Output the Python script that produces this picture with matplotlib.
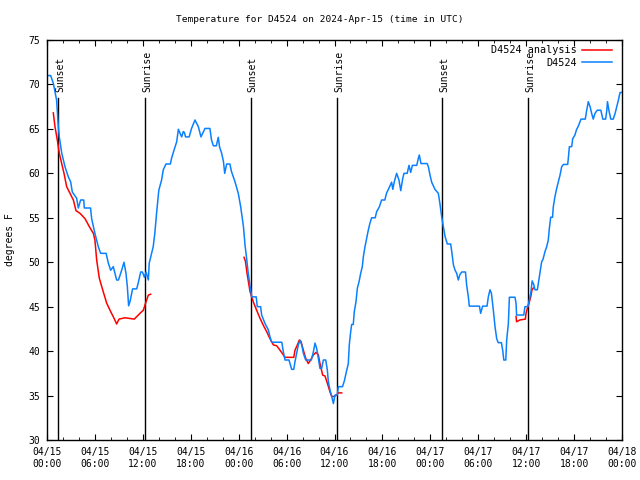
import matplotlib

matplotlib.use("Agg")
import matplotlib.pyplot as plt
import numpy as np

# hours since 04/15 00:00 UTC
obs_hours = [0.1, 0.46, 0.8, 1.2, 1.42, 1.54, 1.84, 2.25, 2.67, 2.96, 3.17, 3.71, 3.92, 4.21, 4.6,
             4.67, 5.45, 5.59, 6.0, 6.42, 6.72, 7.4, 7.68, 7.97, 8.3, 8.72, 8.95, 9.35, 9.64, 9.89,
             10.06, 10.22, 10.4, 10.72, 11.23, 11.43, 11.73, 11.95, 12.2, 12.4, 12.69, 12.8, 13.1,
             13.3, 13.5, 13.72, 14.0, 14.35, 14.56, 14.9, 15.45, 15.6, 15.9, 16.24, 16.45, 16.86,
             17.07, 17.2, 17.35, 17.8, 18.1, 18.53, 18.95, 19.28, 19.78, 20.4, 20.6, 20.83, 21.2,
             21.45, 21.6, 21.87, 22.1, 22.25, 22.5, 22.9, 23.1, 23.54, 23.95, 24.25, 24.6, 24.8,
             25.0, 25.2, 25.42, 25.63, 26.2, 26.33, 26.75, 26.88, 27.3, 27.71, 27.92, 28.13, 29.4,
             29.6, 29.8, 30.3, 30.43, 30.64, 30.9, 31.05, 31.26, 31.47, 31.68, 31.9, 32.1, 32.39,
             33.1, 33.35, 33.56, 33.77, 33.97, 34.18, 34.4, 34.6, 34.9, 35.1, 35.23, 35.44, 35.65,
             35.86, 36.06, 36.35, 36.48, 37.0, 37.25, 37.44, 37.73, 37.85, 38.03, 38.15, 38.35,
             38.48, 38.69, 38.86, 39.07, 39.28, 39.48, 39.61, 39.82, 40.03, 40.23, 40.44, 40.65,
             41.1, 41.28, 41.6, 41.9, 42.3, 42.53, 42.85, 43.15, 43.3, 43.5, 43.78, 44.07, 44.3,
             44.54, 44.7, 45.1, 45.33, 45.54, 45.75, 46.3, 46.5, 46.62, 46.83, 47.6, 47.75, 47.96,
             48.17, 48.58, 49.0, 49.2, 49.42, 49.63, 49.84, 50.13, 50.55, 50.68, 50.89, 51.1, 51.3,
             51.5, 51.7, 51.93, 52.4, 52.55, 52.76, 52.88, 54.15, 54.3, 54.55, 55.1, 55.26, 55.47,
             55.65, 55.89, 56.1, 56.31, 56.5, 56.9, 57.06, 57.2, 57.45, 57.56, 57.77, 57.9, 58.6,
             58.73, 58.8, 59.7, 59.85, 60.2, 60.4, 60.6, 60.75, 60.95, 61.1, 61.4, 61.52, 61.73,
             61.94, 62.1, 62.36, 62.57, 62.77, 62.9, 63.07, 63.3, 63.4, 63.61, 63.82, 64.03, 64.24,
             64.45, 64.66, 65.2, 65.28, 65.41, 65.7, 65.83, 66.1, 66.3, 66.5, 66.74, 66.87, 67.4,
             67.58, 67.78, 68.0, 68.2, 68.4, 68.62, 68.9, 69.35, 69.6, 69.95, 70.1, 70.18, 70.4,
             70.6, 70.9, 71.14, 71.35, 71.55, 71.76, 71.97]
obs_temp = [71.0, 71.0, 70.1, 68.25, 65.25, 64.1, 62.3, 60.75, 59.6, 59.05, 57.9, 57.2, 56.1, 57.0, 57.0,
            56.1, 56.1, 54.9, 53.25, 51.75, 51.0, 51.0, 49.9, 49.1, 49.5, 48.0, 48.0, 49.1, 50.0, 48.75,
            47.25, 45.1, 45.6, 47.0, 47.0, 47.7, 48.9, 48.9, 48.3, 48.9, 48.0, 49.9, 51.0,
            51.75, 53.25, 55.5, 58.1, 59.25, 60.4, 61.05, 61.05, 61.7, 62.6, 63.55, 64.95, 64.1,
            64.7, 64.6, 64.1, 64.1, 65.05, 66.0, 65.25, 64.1, 65.05, 65.05, 63.75, 63.1, 63.1,
            64.05, 63.0, 62.25, 61.3, 60.0, 61.05, 61.05, 60.2, 59.05, 57.75, 56.25, 54.0, 51.9,
            50.4, 48.75, 47.4, 46.1, 46.1, 45.0, 45.0, 44.06, 43.1, 42.4, 41.6, 41.0, 41.0,
            39.9, 39.0, 39.0, 38.6, 37.95, 37.95, 38.8, 39.75, 40.7, 41.2, 40.7, 39.75, 39.0,
            39.0, 39.9, 40.9, 40.3, 39.2, 38.06, 38.06, 39.0, 39.0, 37.9, 36.56, 35.6, 34.9,
            34.1, 35.06, 35.06, 36.0, 36.0, 36.7, 37.5, 38.6, 40.7, 42.2, 43.0, 43.0,
            44.45, 45.55, 47.06, 47.8, 48.75, 49.5, 50.6, 51.75, 52.7, 53.6, 54.4, 55.0,
            55.0, 55.7, 56.2, 57.0, 57.0, 57.8, 58.4, 59.0, 58.2, 59.1, 60.0, 59.25, 58.05,
            59.4, 60.0, 60.0, 60.9, 60.1, 60.9, 60.9, 61.7, 62.06, 61.1, 61.1, 60.75, 59.8,
            59.0, 58.2, 57.75, 56.6, 55.1, 54.0, 52.9, 52.05, 52.05, 51.2, 49.7, 49.1, 48.75,
            48.0, 48.6, 48.9, 48.9, 47.4, 46.1, 45.06, 45.06, 44.25, 45.06, 45.06, 46.1, 46.9,
            46.5, 44.6, 42.75, 41.4, 40.95, 40.95, 40.1, 39.0, 39.0, 41.25, 43.1, 46.06, 46.06,
            45.4, 44.06, 44.06, 45.0, 45.0, 45.75, 46.7, 47.9, 47.5, 46.9, 46.9, 47.6, 48.75,
            50.06, 50.3, 51.2, 51.75, 52.5, 53.8, 55.06, 55.06, 56.25, 57.4, 58.3, 59.06, 59.8,
            60.75, 61.0, 61.0, 61.7, 63.0, 63.0, 63.9, 64.3, 64.9, 65.25, 65.8, 66.1, 66.1,
            67.1, 68.06, 67.5, 66.75, 66.1, 66.75, 67.1, 67.1, 66.1, 66.1, 67.1, 68.06, 66.9,
            66.1, 66.1, 66.75, 67.5, 68.25, 69.1, 69.1]

# analysis series, NaN marks the gaps between the three pieces
ana_hours = [0.79, 1.0, 1.29, 1.54, 1.84, 2.13, 2.46, 2.88, 3.3, 3.63, 4.13, 4.76, 5.3, 5.8, 6.0, 6.22,
             6.55, 6.97, 7.47, 7.97, 8.39, 8.72, 9.02, 9.77, 10.93, 11.64, 12.06, 12.4, 12.69, 12.98,
             np.nan,
             24.67, 24.85, 25.05, 25.42, 25.83, 26.25, 26.67, 27.09, 27.5, 27.92, 28.34, 28.76, 29.18,
             29.6, 29.8, 30.9, 31.05, 31.35, 31.6, 31.8, 32.1, 32.39, 32.72, 33.01, 33.35, 33.68,
             33.97, 34.18, 34.52, 34.81, 35.1, 35.44, 35.65, 35.94, 36.27, 36.48, 36.9,
             np.nan,
             58.73, 58.8, 59.2, 59.9, 59.98, 60.15, 60.36, 60.57, 60.73, 60.9]
ana_temp = [66.8, 65.25, 63.75, 62.25, 61.1, 60.0, 58.5, 57.75, 57.0, 55.8, 55.5, 54.9, 54.0, 53.25, 52.5, 50.25,
            48.2, 46.9, 45.4, 44.45, 43.7, 43.05, 43.6, 43.75, 43.6, 44.25, 44.6, 45.55, 46.3, 46.4,
            np.nan,
            50.55, 50.1, 48.75, 46.7, 45.55, 44.6, 43.7, 42.9, 42.2, 41.4, 40.7, 40.6, 40.1,
            39.56, 39.3, 39.3, 40.1, 40.7, 41.25, 41.1, 40.1, 39.2, 38.6, 39.0, 39.56, 39.86,
            39.6, 38.6, 37.3, 37.2, 36.4, 35.4, 34.9, 34.9, 35.06, 35.3, 35.3,
            np.nan,
            43.9, 43.3, 43.5, 43.6, 44.25, 44.8, 45.4, 46.1, 46.9, 47.1]

sun_hours = [1.42, 12.31, 25.5, 36.35, 49.5, 60.27]
sun_labels = ["Sunset", "Sunrise", "Sunset", "Sunrise", "Sunset", "Sunrise"]

tick_hours = list(range(0, 73, 6))
tick_labels = ["04/15\n00:00", "04/15\n06:00", "04/15\n12:00", "04/15\n18:00",
               "04/16\n00:00", "04/16\n06:00", "04/16\n12:00", "04/16\n18:00",
               "04/17\n00:00", "04/17\n06:00", "04/17\n12:00", "04/17\n18:00",
               "04/18\n00:00"]

plt.rcParams["font.family"] = ["DejaVu Sans Mono"]
plt.rcParams["font.size"] = 7

fig = plt.figure(figsize=(6.4, 4.8), dpi=100)
ax = fig.add_axes([47 / 640, 40 / 480, 575 / 640, 400 / 480])

for h, lab in zip(sun_hours, sun_labels):
    ax.axvline(h, ymin=0, ymax=0.855, color="black", lw=1.0)
    ax.text(h + 0.2, 0.87, lab, transform=ax.get_xaxis_transform(), rotation=90,
            ha="center", va="bottom", fontsize=7)

ax.plot(ana_hours, ana_temp, color="#ff0000", lw=1.1, label="D4524 analysis")
ax.plot(obs_hours, obs_temp, color="#0a80ff", lw=1.1, label="D4524")

ax.set_xlim(0, 72)
ax.set_ylim(30, 75)
ax.set_xticks(tick_hours)
ax.set_xticklabels(tick_labels)
ax.set_xticks(np.arange(0, 73, 2), minor=True)
ax.set_yticks(np.arange(30, 76, 5))
ax.tick_params(which="both", direction="in", top=True, right=True, pad=5)
ax.tick_params(which="major", length=4)
ax.tick_params(which="minor", length=2)
for s in ax.spines.values():
    s.set_linewidth(1.0)

fig.text(0.5, 1 - 20 / 480, "Temperature for D4524 on 2024-Apr-15 (time in UTC)",
         ha="center", va="center", fontsize=6.8)
fig.text(10 / 640, 0.5, "degrees F", rotation=90, ha="center", va="center", fontsize=7)

ax.legend(loc="upper right", bbox_to_anchor=(1.0, 1.011), frameon=False, markerfirst=False,
          handlelength=3.0, handletextpad=0.5, borderaxespad=0.55, labelspacing=0.25,
          fontsize=7.3)

fig.savefig("out.png", dpi=100)
